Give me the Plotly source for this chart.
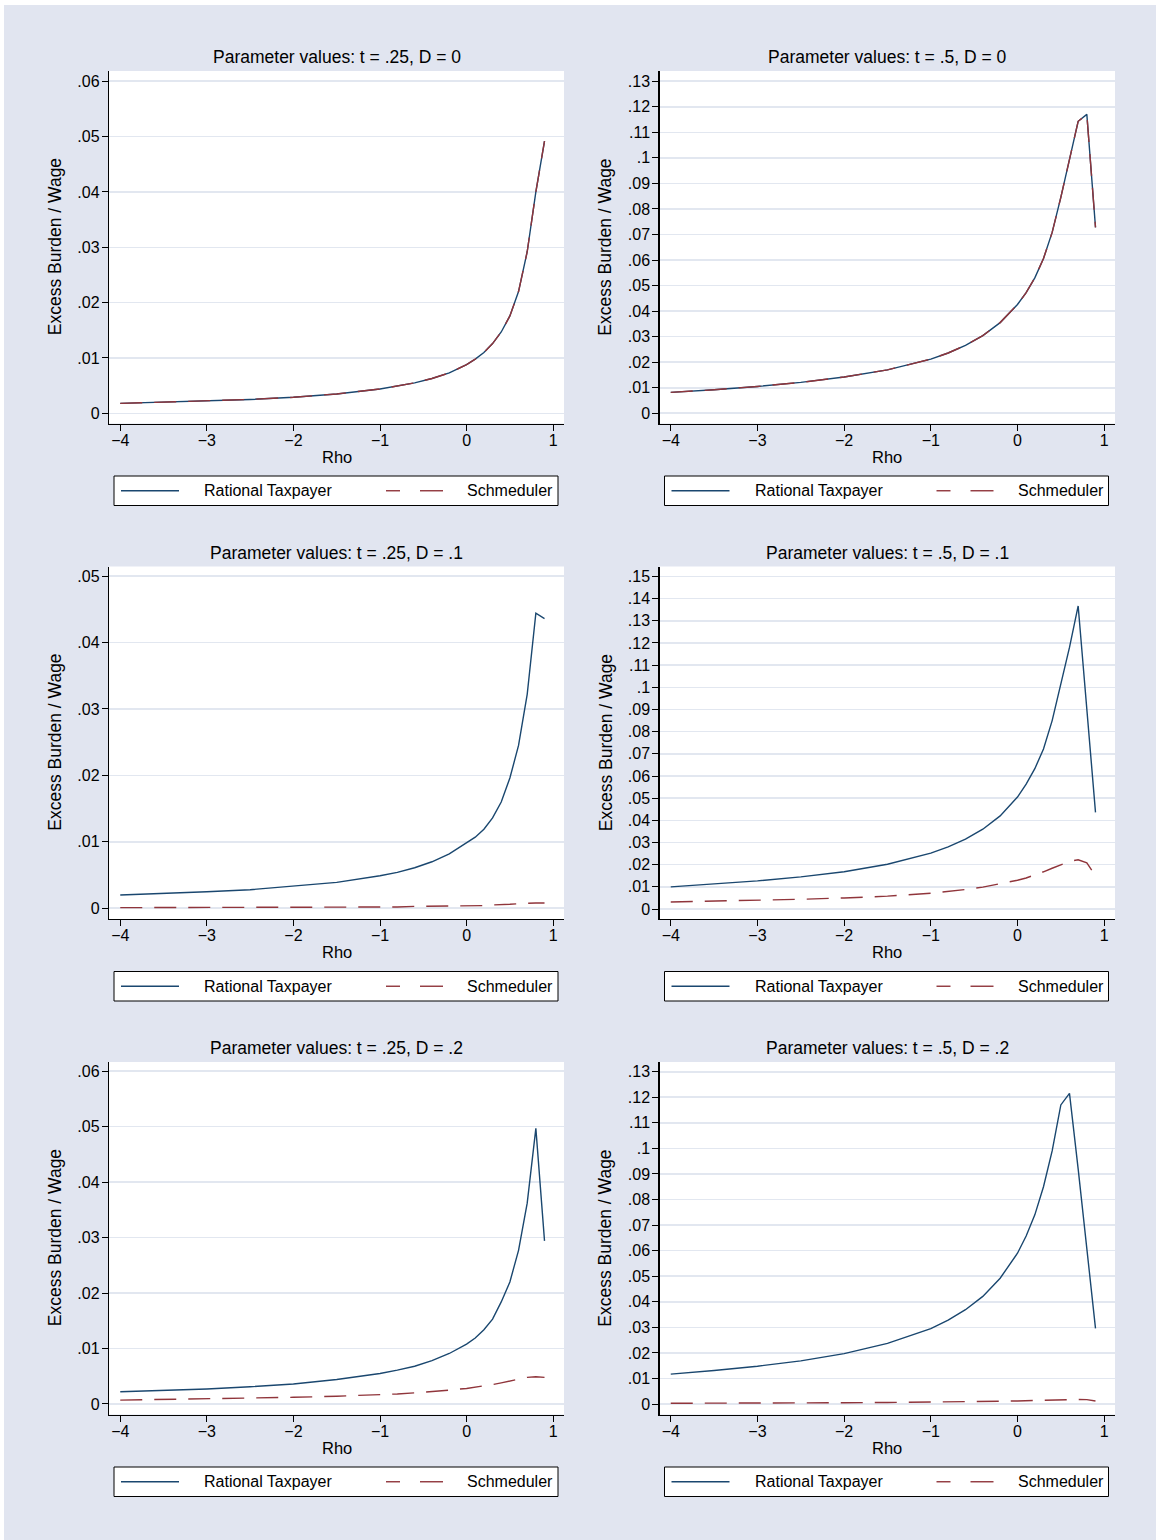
import plotly.graph_objects as go

# ---------------- data ----------------
RHO = [-4, -3.5, -3, -2.5, -2, -1.5, -1, -0.8, -0.6, -0.4, -0.2,
       0, 0.1, 0.2, 0.3, 0.4, 0.5, 0.6, 0.7, 0.8, 0.9]

RATIONAL_T25_D0 = [.0018, .0020, .0022, .0025, .0029, .0035, .0044, .0049, .0055, .0063, .0073,
                   .0088, .0098, .0110, .0126, .0147, .0176, .0220, .0292, .0400, .0492]
SCHMED_T25_D0 = [.0018, .0020, .0022, .0025, .0029, .0035, .0044, .0049, .0055, .0063, .0073,
                 .0088, .0098, .0110, .0126, .0147, .0176, .0220, .0292, .0400, .0492]

RATIONAL_T50_D0 = [.0082, .0092, .0105, .0121, .0142, .0170, .0212, .0236, .0266, .0304, .0355,
                   .0426, .0472, .0530, .0606, .0708, .0845, .0995, .1143, .1170, .0728]
SCHMED_T50_D0 = [.0082, .0092, .0105, .0121, .0142, .0170, .0212, .0236, .0266, .0304, .0355,
                 .0426, .0472, .0530, .0606, .0708, .0845, .0995, .1143, .1170, .0728]

RATIONAL_T25_D1 = [.0020, .0022, .0025, .0028, .0033, .0039, .0049, .0054, .0061, .0070, .0082,
                   .0098, .0107, .0119, .0136, .0160, .0196, .0245, .0322, .0444, .0436]
SCHMED_T25_D1 = [.0001, .0001, .0001, .0001, .0002, .0002, .0002, .0002, .0003, .0003, .0003,
                 .0004, .0004, .0004, .0005, .0005, .0006, .0007, .0008, .0008, .0008]

RATIONAL_T50_D1 = [.0100, .0112, .0127, .0145, .0168, .0202, .0252, .0280, .0315, .0360, .0420,
                   .0505, .0563, .0633, .0722, .0850, .1010, .1180, .1367, .0910, .0436]
SCHMED_T50_D1 = [.0032, .0035, .0039, .0044, .0050, .0058, .0071, .0079, .0088, .0099, .0113,
                 .0130, .0140, .0153, .0168, .0184, .0200, .0215, .0222, .0208, .0150]

RATIONAL_T25_D2 = [.0022, .0024, .0027, .0031, .0036, .0044, .0055, .0061, .0068, .0078, .0091,
                   .0108, .0119, .0134, .0153, .0184, .0220, .0277, .0362, .0497, .0294]
SCHMED_T25_D2 = [.0007, .0008, .0009, .0010, .0012, .0014, .0016, .0018, .0020, .0022, .0025,
                 .0028, .0030, .0032, .0035, .0038, .0041, .0044, .0048, .0049, .0048]

RATIONAL_T50_D2 = [.0117, .0131, .0148, .0169, .0197, .0237, .0295, .0328, .0369, .0421, .0492,
                   .0590, .0657, .0740, .0850, .0990, .1170, .1215, .0920, .0612, .0296]
SCHMED_T50_D2 = [.0003, .0003, .0004, .0004, .0005, .0006, .0007, .0008, .0009, .0010, .0011,
                 .0012, .0013, .0014, .0015, .0016, .0017, .0018, .0018, .0017, .0012]

TITLES = ["Parameter values: t = .25, D = 0", "Parameter values: t = .5, D = 0",
          "Parameter values: t = .25, D = .1", "Parameter values: t = .5, D = .1",
          "Parameter values: t = .25, D = .2", "Parameter values: t = .5, D = .2"]

X_TICKS = [-4, -3, -2, -1, 0, 1]
X_TICKTEXT = ["\u22124", "\u22123", "\u22122", "\u22121", "0", "1"]

Y_TICKS_06 = [0, .01, .02, .03, .04, .05, .06]
Y_TEXT_06 = ["0", ".01", ".02", ".03", ".04", ".05", ".06"]
Y_TICKS_05 = [0, .01, .02, .03, .04, .05]
Y_TEXT_05 = ["0", ".01", ".02", ".03", ".04", ".05"]
Y_TICKS_13 = [0, .01, .02, .03, .04, .05, .06, .07, .08, .09, .1, .11, .12, .13]
Y_TEXT_13 = ["0", ".01", ".02", ".03", ".04", ".05", ".06", ".07", ".08", ".09", ".1", ".11", ".12", ".13"]
Y_TICKS_15 = [0, .01, .02, .03, .04, .05, .06, .07, .08, .09, .1, .11, .12, .13, .14, .15]
Y_TEXT_15 = ["0", ".01", ".02", ".03", ".04", ".05", ".06", ".07", ".08", ".09", ".1", ".11", ".12", ".13", ".14", ".15"]

LEGEND_NAMES = ["Rational Taxpayer", "Schmeduler"]

# ---------------- layout geometry (pixels) ----------------
W, H = 1156, 1540
NAVY = "#1a476f"
MAROON = "#90353b"
BG = "#e1e5f0"
GRID = "#e2e7f0"
FONT = "Liberation Sans, Arial, sans-serif"

COLS = [(109, 564), (659.5, 1115)]
ROWS = [(71, 423.5), (566.5, 919), (1062, 1414.5)]
Y_RANGES = [(-0.00184, 0.06186), (-0.0040, 0.1340),
            (-0.00161, 0.05143), (-0.0045, 0.1545),
            (-0.0019, 0.06166), (-0.0041, 0.1338)]
X_RANGE = (-4.13, 1.125)

panels = [
    (RATIONAL_T25_D0, SCHMED_T25_D0, Y_TICKS_06, Y_TEXT_06),
    (RATIONAL_T50_D0, SCHMED_T50_D0, Y_TICKS_13, Y_TEXT_13),
    (RATIONAL_T25_D1, SCHMED_T25_D1, Y_TICKS_05, Y_TEXT_05),
    (RATIONAL_T50_D1, SCHMED_T50_D1, Y_TICKS_15, Y_TEXT_15),
    (RATIONAL_T25_D2, SCHMED_T25_D2, Y_TICKS_06, Y_TEXT_06),
    (RATIONAL_T50_D2, SCHMED_T50_D2, Y_TICKS_13, Y_TEXT_13),
]


def px(x):
    return x / W


def py(y):
    return 1 - y / H


fig = go.Figure()
layout = {}
annotations = []
shapes = []

# outer white stripes
shapes.append(dict(type="rect", xref="paper", yref="paper", x0=0, x1=px(4), y0=0, y1=1,
                   fillcolor="white", line=dict(width=0), layer="below"))
shapes.append(dict(type="rect", xref="paper", yref="paper", x0=0, x1=1, y0=py(5), y1=1,
                   fillcolor="white", line=dict(width=0), layer="below"))

for i, (rat, sch, yt, ytxt) in enumerate(panels):
    r, c = divmod(i, 2)
    x0, x1 = COLS[c]
    y0, y1 = ROWS[r]
    n = "" if i == 0 else str(i + 1)
    xa, ya = "x" + n, "y" + n
    fig.add_trace(go.Scatter(x=RHO, y=rat, mode="lines", xaxis=xa, yaxis=ya,
                             line=dict(color=NAVY, width=1.4), showlegend=False))
    fig.add_trace(go.Scatter(x=RHO, y=sch, mode="lines", xaxis=xa, yaxis=ya,
                             line=dict(color=MAROON, width=1.4, dash="22px,12px"),
                             showlegend=False))
    layout["xaxis" + n] = dict(
        domain=[px(x0), px(x1)], anchor=ya, range=list(X_RANGE),
        tickvals=X_TICKS, ticktext=X_TICKTEXT, ticks="outside", ticklen=6,
        tickcolor="#000", tickwidth=1, showline=True, linecolor="#000", linewidth=1.2,
        showgrid=False, zeroline=False, tickfont=dict(family=FONT, size=16, color="#000"),
        ticklabelstandoff=-4, fixedrange=True)
    layout["yaxis" + n] = dict(
        domain=[py(y1), py(y0)], anchor=xa, range=list(Y_RANGES[i]),
        tickvals=yt, ticktext=ytxt, ticks="outside", ticklen=6,
        tickcolor="#000", tickwidth=1, showline=True, linecolor="#000", linewidth=1.2,
        showgrid=True, gridcolor=GRID, gridwidth=1.6, zeroline=False,
        tickfont=dict(family=FONT, size=16, color="#000"),
        ticklabelstandoff=-1, fixedrange=True)

    cx = (x0 + x1) / 2
    # panel title
    annotations.append(dict(text=TITLES[i], xref="paper", yref="paper", x=px(cx), y=py(y0 - 14),
                            showarrow=False, xanchor="center", yanchor="middle",
                            font=dict(family=FONT, size=17.5, color="#000")))
    # x title
    annotations.append(dict(text="Rho", xref="paper", yref="paper", x=px(cx), y=py(y1 + 33),
                            showarrow=False, xanchor="center", yanchor="middle",
                            font=dict(family=FONT, size=16.5, color="#000")))
    # y title
    annotations.append(dict(text="Excess Burden / Wage", xref="paper", yref="paper",
                            x=px(x0 - 54), y=py((y0 + y1) / 2), textangle=-90,
                            showarrow=False, xanchor="center", yanchor="middle",
                            font=dict(family=FONT, size=17.5, color="#000")))
    # legend box
    lx0, lx1 = x0 + 5, x0 + 449
    ly0, ly1 = y1 + 52.5, y1 + 82
    lyc = (ly0 + ly1) / 2
    shapes.append(dict(type="rect", xref="paper", yref="paper", x0=px(lx0), x1=px(lx1),
                       y0=py(ly1), y1=py(ly0), fillcolor="white",
                       line=dict(color="#000", width=1)))
    shapes.append(dict(type="line", xref="paper", yref="paper", x0=px(lx0 + 7), x1=px(lx0 + 65),
                       y0=py(lyc), y1=py(lyc), line=dict(color=NAVY, width=1.4)))
    shapes.append(dict(type="line", xref="paper", yref="paper", x0=px(lx0 + 272), x1=px(lx0 + 286),
                       y0=py(lyc), y1=py(lyc), line=dict(color=MAROON, width=1.4)))
    shapes.append(dict(type="line", xref="paper", yref="paper", x0=px(lx0 + 306), x1=px(lx0 + 329),
                       y0=py(lyc), y1=py(lyc), line=dict(color=MAROON, width=1.4)))
    annotations.append(dict(text=LEGEND_NAMES[0], xref="paper", yref="paper", x=px(lx0 + 88),
                            y=py(lyc), showarrow=False, xanchor="left", yanchor="middle",
                            font=dict(family=FONT, size=16, color="#000")))
    annotations.append(dict(text=LEGEND_NAMES[1], xref="paper", yref="paper", x=px(lx0 + 351),
                            y=py(lyc), showarrow=False, xanchor="left", yanchor="middle",
                            font=dict(family=FONT, size=16, color="#000")))

fig.update_layout(
    width=W, height=H, autosize=False,
    margin=dict(l=0, r=0, t=0, b=0, pad=0),
    paper_bgcolor=BG, plot_bgcolor="white",
    showlegend=False,
    annotations=annotations, shapes=shapes,
    font=dict(family=FONT, size=15, color="#000"),
    **layout,
)

fig.write_html("out.html", config={"displayModeBar": False, "staticPlot": True},
               post_script="document.body.style.margin='0';document.body.style.overflow='hidden';")
